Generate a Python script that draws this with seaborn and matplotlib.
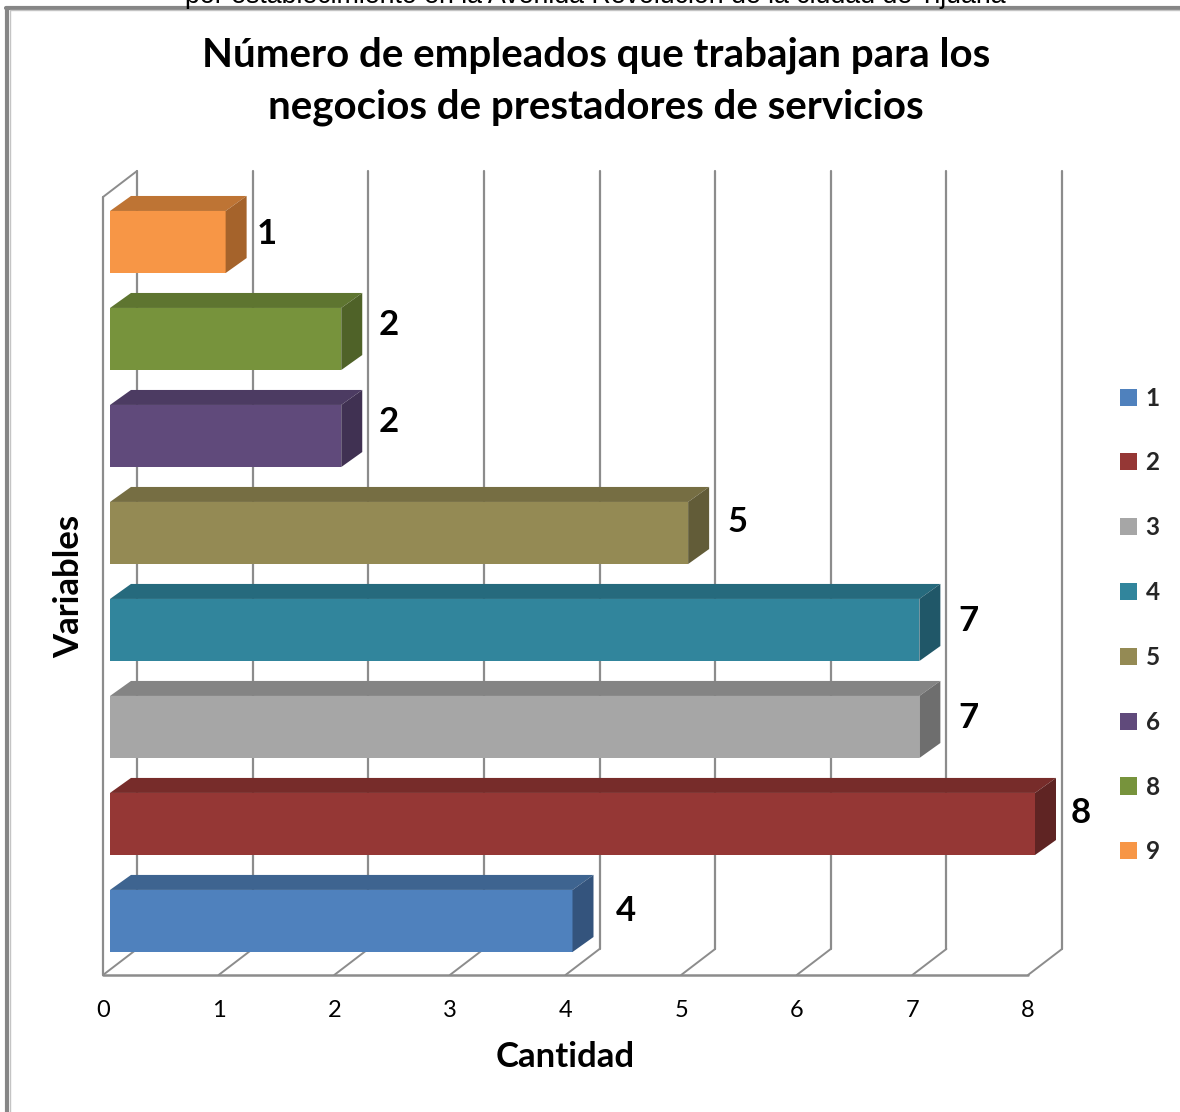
import matplotlib
matplotlib.use("Agg")
import matplotlib.pyplot as plt
from matplotlib.lines import Line2D
from matplotlib.patches import Patch, Polygon
import pandas as pd
import seaborn as sns

# datos de la grafica
variables = ["1", "2", "3", "4", "5", "6", "8", "9"]
cantidad = [4, 8, 7, 7, 5, 2, 2, 1]
x_ticks = [0, 1, 2, 3, 4, 5, 6, 7, 8]
front_colors = ["#4F81BD", "#953735", "#A6A6A6", "#31859C", "#948A54", "#604A7B", "#77933C", "#F79646"]
top_colors = ["#3E6490", "#772C2A", "#848484", "#266A7D", "#766E43", "#4C3B62", "#5E7530", "#BE7434"]
side_colors = ["#34547D", "#5F2423", "#6E6E6E", "#205768", "#625C38", "#403152", "#4F6228", "#A5632B"]
titulo = "Número de empleados que trabajan para los\nnegocios de prestadores de servicios"
corte = "por establecimiento en la Avenida Revolución de la ciudad de Tijuana"

W, H = 1180, 1112
sns.set_theme(style="white")
plt.rcParams["font.family"] = ["Lato", "DejaVu Sans"]

fig = plt.figure(figsize=(W / 100, H / 100), dpi=100)
ax = fig.add_axes([103 / W, 1 - 975 / H, 925 / W, 778 / H])

df = pd.DataFrame({"var": variables, "n": cantidad})
sns.barplot(data=df, x="n", y="var", hue="var", order=variables[::-1], hue_order=variables,
            palette=front_colors, dodge=False, width=0.64, saturation=1, legend=False, ax=ax, zorder=3,
            edgecolor="none", linewidth=0, clip_on=False)
ax.set_xlim(0, 8)
ax.set_ylim(7.557, -0.464)
ux = 925 / 8      # px por unidad x
uy = 97           # px por categoria

# paredes y rejilla en perspectiva
grid = "#8C8C8C"
wx, wy = 34 / ux, 26 / uy
y_front, y_top = ax.get_ylim()
for t in x_ticks:
    ax.plot([t + wx, t + wx], [y_front - wy, y_top - wy], color=grid, lw=1.6, clip_on=False, zorder=1)
    ax.plot([t, t + wx], [y_front, y_front - wy], color=grid, lw=1.4, clip_on=False, zorder=1)
ax.plot([0, 0], [y_front, y_top], color=grid, lw=1.6, clip_on=False, zorder=1)
ax.plot([0, wx], [y_top, y_top - wy], color=grid, lw=1.4, clip_on=False, zorder=1)
ax.plot([0, 8], [y_front, y_front], color=grid, lw=1.8, clip_on=False, zorder=1)

# caras de arriba y lateral de cada barra
bx, by = 21 / ux, 15 / uy
shift = 7 / ux
nudge_x = [5, -2, 1, 1, 1, 0, 0, -7]
nudge_y = [-1, 0, -2, -2, 0, 3, 3, -3]
bars = [b for b in ax.patches if b.get_width() > 0]
for i, name in enumerate(variables):
    # la categoria i esta en la posicion 7-i porque el orden va invertido
    p = [b for b in bars if abs(b.get_y() + b.get_height() / 2 - (7 - i)) < 0.01][0]
    p.set_x(p.get_x() + shift)
    x0, x1 = p.get_x(), p.get_x() + p.get_width()
    y0, y1 = p.get_y(), p.get_y() + p.get_height()
    ax.add_patch(Polygon([(x0, y0), (x1, y0), (x1 + bx, y0 - by), (x0 + bx, y0 - by)],
                         facecolor=top_colors[i], edgecolor="none", zorder=3, clip_on=False))
    ax.add_patch(Polygon([(x1, y0), (x1 + bx, y0 - by), (x1 + bx, y1 - by), (x1, y1)],
                         facecolor=side_colors[i], edgecolor="none", zorder=3, clip_on=False))
    ax.annotate(str(cantidad[i]), (cantidad[i], (y0 + y1) / 2), xytext=(55 + nudge_x[i], 11 + nudge_y[i]),
                textcoords="offset pixels", ha="center", va="center", fontsize=25, fontweight="bold",
                color="black", annotation_clip=False)

for s in ax.spines.values():
    s.set_visible(False)
ax.set_yticks([])
ax.set_xticks(x_ticks)
ax.tick_params(axis="x", length=0, pad=18, labelsize=17, labelcolor="black")
ax.set_xlabel("")
ax.set_ylabel("")
ax.patch.set_visible(False)

# leyenda
handles = [Patch(facecolor=c, edgecolor="none") for c in front_colors]
fig.legend(handles, variables, loc="center left", bbox_to_anchor=(1120 / W, 1 - 625 / H), frameon=False,
           prop={"weight": "bold", "size": 17.5}, handlelength=0.7, handleheight=0.7, handletextpad=0.35,
           labelspacing=1.72, borderpad=0, borderaxespad=0)

# textos
fig.text(596 / W, 1 - 81 / H, titulo, ha="center", va="center", fontsize=29, fontweight="bold",
         color="black", linespacing=1.48)
fig.text(565 / W, 1 - 1057 / H, "Cantidad", ha="center", va="center", fontsize=25, fontweight="bold", color="black")
fig.text(69 / W, 1 - 586 / H, "Variables", ha="center", va="center", rotation=90, fontsize=25,
         fontweight="bold", color="black")
fig.text(595 / W, 1 - 3 / H, corte, ha="center", va="baseline", fontsize=19.3, color="black",
         family=["Liberation Sans", "DejaVu Sans"])

# marco de la hoja, cortado a la derecha y abajo
fig.add_artist(Line2D([7 / W, 7 / W], [0, 1 - 7.5 / H], color="#868686", lw=3))
fig.add_artist(Line2D([5.5 / W, 1], [1 - 7.5 / H, 1 - 7.5 / H], color="#868686", lw=3))
fig.add_artist(Line2D([9.5 / W, 9.5 / W], [0, 1 - 9.5 / H], color="#C4C4C4", lw=1))
fig.add_artist(Line2D([9.5 / W, 1], [1 - 9.5 / H, 1 - 9.5 / H], color="#C4C4C4", lw=1))

fig.savefig("out.png", dpi=100)
